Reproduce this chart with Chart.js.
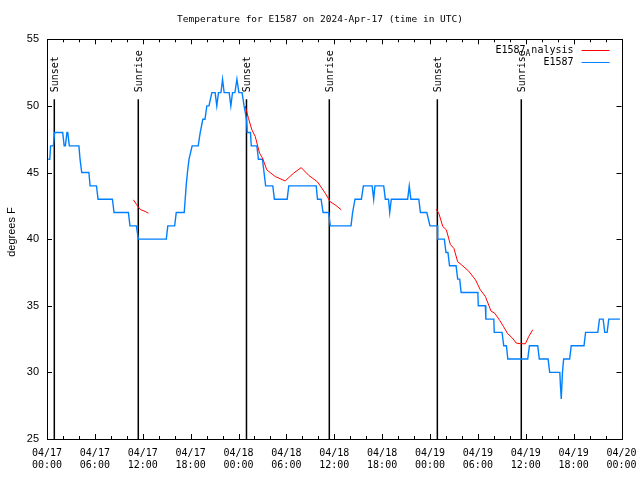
<!DOCTYPE html>
<html>
<head>
<meta charset="utf-8">
<script src="https://cdn.jsdelivr.net/npm/chart.js@4.4.1/dist/chart.umd.min.js"></script>
<style>
  html, body { margin: 0; padding: 0; background: #fff; }
  #wrap { width: 640px; height: 480px; }
</style>
</head>
<body>
<div id="wrap"><canvas id="tempChart" width="640" height="480"></canvas></div>
<script>
// ========= Data (x = hours since 2024-04-17 00:00 UTC) =========
const titleText = "Temperature for E1587 on 2024-Apr-17 (time in UTC)";
const yLabel = "degrees F";

const e1587Hours = [
  0.15, 0.35, 0.45, 0.8, 0.95, 1.97, 2.15, 2.3, 2.5, 2.6, 2.8, 4.0, 4.14, 4.35,
  5.25, 5.4, 6.2, 6.4, 8.2, 8.4, 10.2, 10.4, 11.2, 11.45, 14.95, 15.14, 16.0, 16.2,
  17.2, 17.44, 17.6, 17.8, 18.19, 18.95, 19.2, 19.53, 19.8, 20.03, 20.3, 20.66, 21.07,
  21.28, 21.49, 21.8, 22.0, 22.2, 22.83, 23.04, 23.25, 23.55, 23.8, 24.05, 24.45, 24.7,
  25.0, 25.1, 25.5, 25.6, 26.3, 26.5, 27.0, 27.2, 27.4, 28.3, 28.5, 30.1, 30.3, 33.74,
  33.9, 34.35, 34.6, 35.3, 35.5, 38.1, 38.3, 38.6, 39.4, 39.65, 40.75, 40.94, 41.1,
  42.2, 42.4, 42.8, 42.95, 43.15, 45.2, 45.4, 45.6, 46.6, 46.8, 47.6, 48.0, 48.95,
  48.97, 49.8, 50.0, 50.25, 50.45, 51.27, 51.47, 51.72, 51.9, 54.0, 54.05, 54.94, 55.0,
  56.0, 56.05, 57.03, 57.24, 57.58, 57.75, 60.25, 60.46, 61.5, 61.7, 62.8, 63.0, 64.27,
  64.35, 64.45, 64.6, 64.75, 65.5, 65.7, 67.3, 67.5, 69.03, 69.24, 69.7, 69.9, 70.2,
  70.4, 71.8
];
const e1587Temps = [
  46, 46, 47, 47, 48, 48, 47, 47, 48, 48, 47, 47, 46, 45,
  45, 44, 44, 43, 43, 42, 42, 41, 41, 40, 40, 41, 41, 42,
  42, 44, 45, 46, 47, 47, 48, 49, 49, 50, 50, 51, 51,
  50, 51, 51, 52, 51, 51, 50, 51, 51, 52, 51, 51, 50,
  49, 48, 48, 47, 47, 46, 46, 45, 44, 44, 43, 43, 44, 44,
  43, 43, 42, 42, 41, 41, 42, 43, 43, 44, 44, 43, 44,
  44, 43, 43, 42, 43, 43, 44, 43, 43, 42, 42, 41, 41,
  40, 40, 39, 39, 38, 38, 37, 37, 36, 36, 35, 35, 34,
  34, 33, 33, 32, 32, 31, 31, 32, 32, 31, 31, 30, 30,
  29, 28, 30, 31, 31, 32, 32, 33, 33, 34, 34, 33, 33,
  34, 34
];

// analysis runs in three pieces; null temps break the line
const analysisHours = [
  10.83, 11.25, 11.54, 11.79, 12.3, 12.71,
  18,
  24.84, 25.25, 25.68, 26.1, 26.64, 27.0, 27.55, 28.6, 29.85, 30.9, 31.86, 32.78,
  33.9, 34.87, 35.5, 36.1, 36.88,
  42,
  48.75, 49.1, 49.6, 50.05, 50.55, 51.0, 51.47, 51.9, 52.85, 53.7, 54.3, 54.94,
  55.65, 56.1, 56.74, 57.2, 57.74, 58.3, 58.8, 59.35, 59.96, 60.38, 60.88
];
const analysisTemps = [
  42.95, 42.58, 42.33, 42.2, 42.08, 41.95,
  null,
  50.0, 49.07, 48.2, 47.7, 46.45, 46.1, 45.2, 44.7, 44.37, 44.95, 45.37, 44.8,
  44.3, 43.45, 42.8, 42.58, 42.2,
  null,
  42.25, 41.95, 40.95, 40.7, 39.6, 39.3, 38.3, 38.1, 37.6, 36.95, 36.2, 35.7,
  34.6, 34.45, 33.9, 33.45, 32.9, 32.6, 32.2, 32.15, 32.15, 32.7, 33.2
];

const sunsetHours = [0.915, 25.0, 48.92];
const sunriseHours = [11.44, 35.38, 59.44];

const xTickLabels = [
  ["04/17", "00:00"], ["04/17", "06:00"], ["04/17", "12:00"], ["04/17", "18:00"],
  ["04/18", "00:00"], ["04/18", "06:00"], ["04/18", "12:00"], ["04/18", "18:00"],
  ["04/19", "00:00"], ["04/19", "06:00"], ["04/19", "12:00"], ["04/19", "18:00"],
  ["04/20", "00:00"]
];
const yTicks = [25, 30, 35, 40, 45, 50, 55];

const MONO = "10px 'DejaVu Sans Mono', monospace";
const SANS = "11px 'Liberation Sans', Arial, sans-serif";

/* ========= Utilities ========= */
function zip(xs, ys) {
  return xs.map((x, i) => ({ x: x, y: ys[i] }));
}

// gnuplot "enhanced" text: "_X" puts X as a subscript
function drawEnhanced(ctx, text, xRight, y) {
  const parts = [];
  for (let i = 0; i < text.length; i++) {
    if (text[i] === "_" && i + 1 < text.length) {
      parts.push({ s: text[i + 1], sub: true });
      i++;
    } else {
      parts.push({ s: text[i], sub: false });
    }
  }
  const subFont = "8px 'DejaVu Sans Mono', monospace";
  let w = 0;
  parts.forEach(p => {
    ctx.font = p.sub ? subFont : MONO;
    p.w = ctx.measureText(p.s).width + (p.sub ? 1 : 0);
    w += p.w;
  });
  let x = xRight - w;
  ctx.textAlign = "left";
  ctx.textBaseline = "middle";
  parts.forEach(p => {
    ctx.font = p.sub ? subFont : MONO;
    ctx.fillText(p.s, x, p.sub ? y + 4 : y);
    x += p.w;
  });
}

/* ========= Plugin: sun lines, frame, inward ticks, legend ========= */
const gnuplotLook = {
  id: "gnuplotLook",
  beforeDatasetsDraw(chart) {
    const { ctx, chartArea: a, scales: { x } } = chart;
    ctx.save();
    ctx.strokeStyle = "#000";
    ctx.fillStyle = "#000";
    ctx.lineWidth = 1.5;
    ctx.font = MONO;
    const mark = (h, label) => {
      const px = x.getPixelForValue(h);
      ctx.beginPath();
      ctx.moveTo(px, a.top + 60);
      ctx.lineTo(px, a.bottom);
      ctx.stroke();
      ctx.save();
      ctx.translate(px + 1, a.top + 53);
      ctx.rotate(-Math.PI / 2);
      ctx.textAlign = "left";
      ctx.textBaseline = "middle";
      ctx.fillText(label, 0, 0);
      ctx.restore();
    };
    sunsetHours.forEach(h => mark(h, "Sunset"));
    sunriseHours.forEach(h => mark(h, "Sunrise"));
    ctx.restore();
  },
  afterDraw(chart) {
    const { ctx, chartArea: a, scales: { x, y } } = chart;
    ctx.save();
    ctx.strokeStyle = "#000";
    ctx.lineWidth = 1;
    ctx.strokeRect(Math.round(a.left) + 0.5, Math.round(a.top) + 0.5,
      Math.round(a.right - a.left), Math.round(a.bottom - a.top));

    // x ticks every 2 h, longer every 6 h, on bottom and top
    ctx.beginPath();
    for (let h = 2; h < 72; h += 2) {
      const px = Math.round(x.getPixelForValue(h)) + 0.5;
      const len = h % 6 === 0 ? 5 : 3;
      ctx.moveTo(px, a.bottom); ctx.lineTo(px, a.bottom - len);
      ctx.moveTo(px, a.top); ctx.lineTo(px, a.top + len);
    }
    yTicks.forEach(v => {
      const py = Math.round(y.getPixelForValue(v)) + 0.5;
      ctx.moveTo(a.left, py); ctx.lineTo(a.left + 5, py);
      ctx.moveTo(a.right, py); ctx.lineTo(a.right - 5, py);
    });
    ctx.stroke();

    // y axis label
    ctx.save();
    ctx.translate(12, 232);
    ctx.rotate(-Math.PI / 2);
    ctx.font = SANS;
    ctx.fillStyle = "#000";
    ctx.textAlign = "center";
    ctx.textBaseline = "middle";
    ctx.fillText(yLabel, 0, 0);
    ctx.restore();

    // legend, top right
    ctx.fillStyle = "#000";
    chart.data.datasets.forEach((ds, i) => {
      const ly = a.top + 11 + i * 12;
      drawEnhanced(ctx, ds.label, a.right - 48, ly);
      ctx.strokeStyle = ds.borderColor;
      ctx.lineWidth = 1;
      ctx.beginPath();
      ctx.moveTo(a.right - 40, Math.round(ly) + 0.5);
      ctx.lineTo(a.right - 12, Math.round(ly) + 0.5);
      ctx.stroke();
    });
    ctx.restore();
  }
};

/* ========= Chart ========= */
function tempChart() {
  const el = document.getElementById("tempChart");
  const ctx = el.getContext("2d");

  new Chart(ctx, {
    type: "line",
    data: {
      datasets: [
        {
          label: "E1587_Analysis",
          data: zip(analysisHours, analysisTemps),
          borderColor: "#ff0000",
          borderWidth: 1,
          pointRadius: 0,
          tension: 0,
          spanGaps: false
        },
        {
          label: "E1587",
          data: zip(e1587Hours, e1587Temps),
          borderColor: "#0080ff",
          borderWidth: 1.4,
          pointRadius: 0,
          tension: 0
        }
      ]
    },
    options: {
      responsive: false,
      animation: false,
      layout: { padding: 0 },
      plugins: {
        legend: { display: false },
        tooltip: { enabled: false },
        title: {
          display: true,
          text: titleText,
          color: "#000",
          font: { family: "'DejaVu Sans Mono', monospace", size: 9.5, weight: "normal", lineHeight: "12px" },
          padding: { top: 14, bottom: 13.3 }
        }
      },
      scales: {
        x: {
          type: "linear",
          min: 0,
          max: 72,
          grid: { display: false, drawTicks: false },
          border: { display: false },
          afterFit: (s) => {
            s.height = 41;
            s.paddingLeft = 0;
            s.paddingRight = 18.5;
          },
          ticks: {
            stepSize: 6,
            autoSkip: false,
            maxRotation: 0,
            padding: 8,
            color: "#000",
            font: { family: "'DejaVu Sans Mono', monospace", size: 10, lineHeight: "12px" },
            callback: (v) => xTickLabels[v / 6] || ""
          }
        },
        y: {
          min: 25,
          max: 55,
          grid: { display: false, drawTicks: false },
          border: { display: false },
          afterFit: (s) => { s.width = 47; },
          ticks: {
            stepSize: 5,
            padding: 8,
            color: "#000",
            font: { family: "'Liberation Sans', Arial, sans-serif", size: 11 }
          }
        }
      }
    },
    plugins: [gnuplotLook]
  });
}

window.addEventListener("load", () => {
  tempChart();
});
</script>
</body>
</html>
